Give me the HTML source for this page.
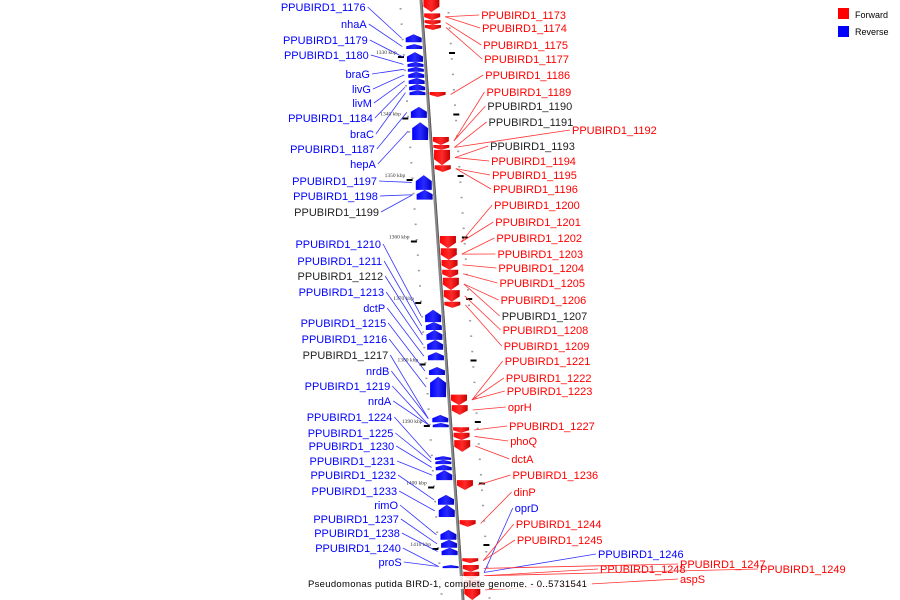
<!DOCTYPE html>
<html><head><meta charset="utf-8"><style>
html,body{margin:0;padding:0;background:#fff;}
svg{display:block;font-family:"Liberation Sans",sans-serif;}
</style></head><body>
<svg id="chart" width="900" height="600" viewBox="0 0 900 600" xmlns="http://www.w3.org/2000/svg">
<defs>
<linearGradient id="gb" x1="0" x2="1"><stop offset="0" stop-color="#0000ff"/><stop offset="0.5" stop-color="#2a2aff"/><stop offset="1" stop-color="#0000c8"/></linearGradient>
<linearGradient id="gr" x1="0" x2="1"><stop offset="0" stop-color="#ff0000"/><stop offset="0.5" stop-color="#ff2a2a"/><stop offset="1" stop-color="#c80000"/></linearGradient>
</defs>
<g id="layer"></g>
<rect x="838" y="8" width="11" height="11" fill="#ff0000"/>
<text x="855" y="18" font-size="9" fill="#000">Forward</text>
<rect x="838" y="26" width="11" height="11" fill="#0000ff"/>
<text x="855" y="35" font-size="9" fill="#000">Reverse</text>
</svg>
<script>
// gene coordinates (kbp)
const blueStart=[1326.3,1327.9,1329.2,1330.8,1331.6,1332.4,1333.4,1334.4,1335.4,1338.1,1340.6,1349.2,1351.6,1371.1,1373.1,1374.4,1376.0,1378.0,1380.4,1382.0,1388.2,1389.5,1394.9,1395.5,1396.3,1397.2,1401.2,1402.8,1406.9,1408.5,1409.8,1412.6];
const blueEnd=[1327.6,1328.7,1330.8,1331.6,1332.4,1333.4,1334.4,1335.4,1336.2,1339.9,1343.5,1351.6,1353.2,1373.1,1374.4,1376.0,1377.6,1379.3,1381.7,1385.3,1389.4,1390.2,1395.5,1396.2,1397.2,1398.8,1402.8,1404.8,1408.5,1409.8,1411.0,1413.1];
const redStart=[1320.7,1322.9,1324.0,1324.8,1335.7,1343.0,1344.3,1345.1,1347.6,1359.1,1361.1,1363.0,1364.6,1365.9,1367.9,1369.8,1384.9,1386.6,1390.2,1391.1,1392.3,1398.8,1405.3,1411.5,1412.6,1413.7,1415.0];
const redEnd=[1322.7,1324.0,1324.8,1325.6,1336.5,1344.3,1345.1,1347.6,1348.7,1361.1,1363.0,1364.6,1365.9,1367.9,1369.8,1370.8,1386.6,1388.2,1391.1,1392.3,1394.2,1400.4,1406.4,1412.3,1413.7,1415.0,1418.3];
const tickKbp=[1330,1340,1350,1360,1370,1380,1390,1400,1410];
const leftNames=["PPUBIRD1_1176","nhaA","PPUBIRD1_1179","PPUBIRD1_1180","braG","livG","livM","PPUBIRD1_1184","braC","PPUBIRD1_1187","hepA","PPUBIRD1_1197","PPUBIRD1_1198","PPUBIRD1_1199","PPUBIRD1_1210","PPUBIRD1_1211","PPUBIRD1_1212","PPUBIRD1_1213","dctP","PPUBIRD1_1215","PPUBIRD1_1216","PPUBIRD1_1217","nrdB","PPUBIRD1_1219","nrdA","PPUBIRD1_1224","PPUBIRD1_1225","PPUBIRD1_1230","PPUBIRD1_1231","PPUBIRD1_1232","PPUBIRD1_1233","rimO","PPUBIRD1_1237","PPUBIRD1_1238","PPUBIRD1_1240","proS"];
const leftRow=[10,27,43,58,77,92,106,121,137,152,167,184,199,215,247,264,279,295,311,326,342,358,374,389,404,420,436,449,464,478,494,508,522,536,551,565];
const leftTarget=[0,1,2,3,4,5,6,7,8,9,10,11,12,12,13,14,15,16,17,18,19,20,20,21,21,22,23,24,25,26,27,28,29,30,31,31];
const leftBlack=[13,16,21];
const rightNames=["PPUBIRD1_1173","PPUBIRD1_1174","PPUBIRD1_1175","PPUBIRD1_1177","PPUBIRD1_1186","PPUBIRD1_1189","PPUBIRD1_1190","PPUBIRD1_1191","PPUBIRD1_1192","PPUBIRD1_1193","PPUBIRD1_1194","PPUBIRD1_1195","PPUBIRD1_1196","PPUBIRD1_1200","PPUBIRD1_1201","PPUBIRD1_1202","PPUBIRD1_1203","PPUBIRD1_1204","PPUBIRD1_1205","PPUBIRD1_1206","PPUBIRD1_1207","PPUBIRD1_1208","PPUBIRD1_1209","PPUBIRD1_1221","PPUBIRD1_1222","PPUBIRD1_1223","oprH","PPUBIRD1_1227","phoQ","dctA","PPUBIRD1_1236","dinP","oprD","PPUBIRD1_1244","PPUBIRD1_1245","PPUBIRD1_1246","PPUBIRD1_1247","PPUBIRD1_1248","PPUBIRD1_1249","aspS"];
const rightRow=[18,31,48,62,78,95,109,125,133,149,164,178,192,208,225,241,257,271,286,303,319,333,349,364,381,394,410,429,444,462,478,495,511,527,543,557,567,572,572,582];
const rightTarget=[1,1,2,3,4,5,5,6,6,7,7,8,8,9,9,10,10,11,12,13,13,14,15,16,16,16,17,18,19,20,21,22,-31,23,23,-31,24,25,25,26];
const rightLabelX=[null,null,null,null,null,null,null,null,572,null,null,null,null,null,null,null,null,null,null,null,null,null,null,null,null,null,null,null,null,null,null,null,null,null,null,598,680,600,760,680];
const rightBlack=[6,7,9,20];

const NS="http://www.w3.org/2000/svg";
const layer=document.getElementById('layer');
const y=k=>57+(k-1330)*6.15;
const ax=yy=>421+yy*0.07;
function mk(tag,attrs,parent){const e=document.createElementNS(NS,tag);for(const a in attrs)e.setAttribute(a,attrs[a]);(parent||layer).appendChild(e);return e;}

// minor dots
for(let yy=8;yy<600;yy+=15.4){
 const d1=mk('rect',{x:ax(yy)-22,y:yy,width:2,height:1.5,fill:'#999'});
 
 
 const d2=mk('rect',{x:ax(yy)+26,y:yy+4,width:2,height:1.5,fill:'#999'});
 
 
}
// axis
const axl=mk('line',{x1:ax(0),y1:0,x2:ax(600),y2:600,stroke:'#888','stroke-width':3});


mk('line',{x1:ax(0)+1,y1:0,x2:ax(600)+1,y2:600,stroke:'#555','stroke-width':0.8});
// ticks
tickKbp.forEach(k=>{
 const yy=y(k);
 const t=mk('rect',{x:ax(yy)-27,y:yy-1,width:6,height:2,fill:'#000'});
 
 
 const t2=mk('rect',{x:ax(yy)+24,y:yy-5,width:6,height:2,fill:'#000'});
 
 
 const tl=mk('text',{x:ax(yy)-49,y:yy-3,'font-size':5.5,fill:'#333','font-family':'Liberation Serif, serif'});
 tl.textContent=k+' kbp';
 
 
});
function gene(s,e,dir){
 const y1=y(s),y2=y(e),m=(y1+y2)/2,h=y2-y1,tip=Math.min(h*0.45,6);
 const off=dir<0?-18:2, xa=ax(m)+off, w=16;
 let pts;
 if(dir<0) pts=[[xa+w/2,y1],[xa+w,y1+tip],[xa+w,y2],[xa,y2],[xa,y1+tip]];
 else pts=[[xa,y1],[xa+w,y1],[xa+w,y2-tip],[xa+w/2,y2],[xa,y2-tip]];
 const p=mk('polygon',{points:pts.map(q=>q.join(',')).join(' '),fill:dir<0?'url(#gb)':'url(#gr)'});
 return p;
}
blueStart.forEach((s,i)=>{const g=gene(s,blueEnd[i],-1);
 
 });
redStart.forEach((s,i)=>{const g=gene(s,redEnd[i],1);
 
 });
// left labels
leftNames.forEach((n,i)=>{
 const ry=leftRow[i], rx=365+ry*0.065;
 const g=blueStart[leftTarget[i]], ge=blueEnd[leftTarget[i]];
 const ty=(y(g)+y(ge))/2;
 const col=leftBlack.includes(i)?'#222':'#0000ff';
 const l=mk('line',{x1:rx+2,y1:ry-3,x2:ax(ty)-22,y2:ty,stroke:'#3333ff','stroke-width':0.8});
 
 
 const t=mk('text',{x:rx,y:ry+1,'text-anchor':'end','font-size':11,fill:col});
 t.textContent=n;
 
 
});
// right labels
rightNames.forEach((n,i)=>{
 const ry=rightRow[i], rx=rightLabelX[i]!==null?rightLabelX[i]:480+ry*0.068;
 const ti=rightTarget[i];
 let ty,lc,col;
 if(ti<0){const b=-ti;ty=(y(blueStart[b])+y(blueEnd[b]))/2+6;lc='#3333ff';col='#0000ff';}
 else{ty=(y(redStart[ti])+y(redEnd[ti]))/2;lc='#ff3333';col='#ff0000';}
 if(rightBlack.includes(i))col='#222';
 const l=mk('line',{x1:rx-2,y1:ry-3,x2:ax(ty)+23,y2:ty,stroke:lc,'stroke-width':0.8});
 
 
 const t=mk('text',{x:rx,y:ry+1,'font-size':11,fill:col});
 t.textContent=n;
 
 
});
// title
const tb=mk('rect',{x:306,y:576,width:286,height:13,fill:'#fff','fill-opacity':0.85});


const tt=mk('text',{x:308,y:587,'font-size':9.5,fill:'#000','letter-spacing':0.3});
tt.textContent='Pseudomonas putida BIRD-1, complete genome. - 0..5731541';


</script>
</body></html>
